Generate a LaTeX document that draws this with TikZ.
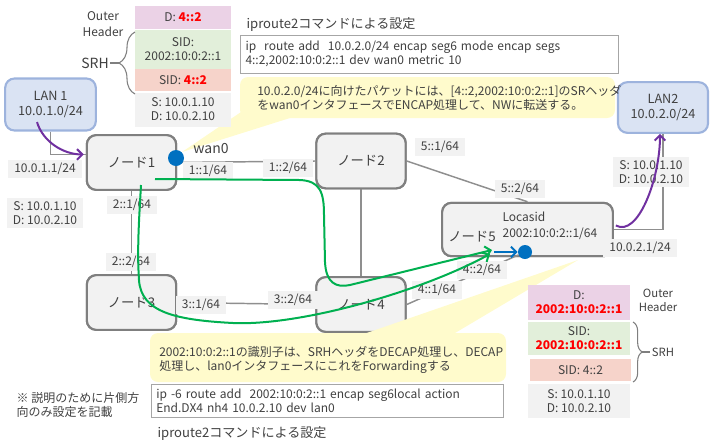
\documentclass[tikz,border=0pt]{standalone}
\usepackage{fontspec}
\setmainfont{Noto Sans CJK JP}
\usetikzlibrary{arrows.meta,calc,decorations.pathreplacing}

\definecolor{txtgray}{HTML}{404040}
\definecolor{boxfill}{HTML}{F2F2F2}
\definecolor{boxline}{HTML}{7F7F7F}
\definecolor{linkgray}{HTML}{8F8F8F}
\definecolor{lanfill}{HTML}{DAE3F3}
\definecolor{lanline}{HTML}{9DB3DD}
\definecolor{hdrpink}{HTML}{EBD2E6}
\definecolor{hdrgreen}{HTML}{E2EFDA}
\definecolor{hdrred}{HTML}{F6D3CA}
\definecolor{callfill}{HTML}{FFFBCC}
\definecolor{cmdline}{HTML}{A6A6A6}
\definecolor{pathgreen}{HTML}{00B050}
\definecolor{ifblue}{HTML}{0070C0}
\definecolor{lanpurple}{HTML}{7030A0}

\newcommand\hotval[1]{\textcolor{red}{\bfseries #1}}

\tikzset{
    router/.style={draw=boxline, fill=boxfill, line width=1.6pt, rounded corners=7pt,
        minimum width=67pt, minimum height=41pt, text=txtgray, font=\fontsize{10}{12}\selectfont},
    lan/.style={draw=lanline, fill=lanfill, line width=1.6pt, rounded corners=7pt,
        minimum width=68pt, minimum height=39pt, align=center, text=txtgray,
        font=\fontsize{9.5}{11.5}\selectfont},
    addr/.style={fill=boxfill, text=txtgray, inner xsep=4.5pt, inner ysep=2.5pt, align=center,
        font=\fontsize{9}{11}\selectfont},
    hdr/.style={minimum width=72pt, inner sep=0pt, align=center, text=txtgray,
        font=\fontsize{9}{10.5}\selectfont},
    plain/.style={text=txtgray, inner sep=1pt, font=\fontsize{9}{11}\selectfont},
    link/.style={draw=linkgray, line width=1.1pt},
    route/.style={draw=pathgreen, line width=1.5pt, -{Straight Barb[length=4pt,width=8pt]}},
    lanarrow/.style={draw=lanpurple, line width=1.5pt, -{Straight Barb[length=4pt,width=8pt]}},
    ifdot/.style={circle, fill=ifblue, inner sep=0pt},
    callbox/.style={fill=callfill, rounded corners=6pt},
    cmd/.style={draw=cmdline, fill=white, line width=0.6pt, align=left, text=txtgray,
        inner xsep=4pt, font=\fontsize{9}{10.5}\selectfont},
    calltext/.style={align=left, text=txtgray, inner sep=0pt, font=\fontsize{9}{10.5}\selectfont}
}

\begin{document}
\begin{tikzpicture}[x=0.75pt, y=-0.75pt]
    \useasboundingbox (0,0) rectangle (714,444);

    % routers and LANs
    \foreach \nm/\x/\y/\t in {n1/131.5/162.5/1, n2/361/161/2, n3/131.5/302.5/3, n4/361/304.5/4}
        \node (\nm) at (\x,\y)[router]{ノード\t};
    \node (n5) at (527.5,229.5)[router, minimum width=128pt, minimum height=40pt]{};
    \node (lan1) at (50.5,104.5)[lan]{LAN 1\\10.0.1.0/24};
    \node (lan2) at (663,107.5)[lan, minimum width=67.5pt, minimum height=38pt]{LAN2\\10.0.2.0/24};

    % links
    \draw[link] (lan1.south) |- (n1.170);
    \draw[link] (n1.east) -- (n2.west);
    \draw[link] (n2.east) -- (n5.north);
    \draw[link] (n2.south) -- (n4.north);
    \draw[link] (n1.south) -- (n3.north);
    \draw[link] (n3.east) -- (n4.west);
    \draw[link] (n5.east) -| (lan2.south);

    % routers again on top of the links
    \foreach \nm/\x/\y/\t in {n1/131.5/162.5/1, n2/361/161/2, n3/131.5/302.5/3, n4/361/304.5/4}
        \node at (\x,\y)[router]{ノード\t};
    \node at (527.5,229.5)[router, minimum width=128pt, minimum height=40pt]{};
    \node (n5name) at (472,237)[plain, font=\fontsize{10}{12}\selectfont]{ノード5};
    \node (n5sid) at (501,226)[plain, anchor=west, align=left, font=\fontsize{9}{12}\selectfont]{Locasid\\2002:10:0:2::1/64};
    \node (dot5) at (525,252)[ifdot, minimum size=10.5pt]{};
    \draw[link] (n4.east) -- (dot5);

    % callouts
    \fill[callbox] (240,77) rectangle (615,118);
    \fill[callfill] (182,152) -- (244,110) -- (290,118) -- cycle;
    \fill[callbox] (150,333) rectangle (506,382);
    \fill[callfill] (578,260) -- (358,336) -- (450,336) -- cycle;
    \node (call1) at (257,98)[calltext, anchor=west]{10.0.2.0/24に向けたパケットには、[4::2,2002:10:0:2::1]のSRヘッダ\\をwan0インタフェースでENCAP処理して、NWに転送する。};
    \node (call2) at (159,360)[calltext, anchor=west]{2002:10:0:2::1の識別子は、SRHヘッダをDECAP処理し、DECAP\\処理し、lan0インタフェースにこれをForwardingする};

    % commands
    \node (cmd1) at (429.5,54)[cmd, minimum width=284pt, minimum height=28.5pt, text width=276pt]{ip\ \ route add\ \ 10.0.2.0/24 encap seg6 mode encap segs\\4::2,2002:10:0:2::1 dev wan0 metric 10};
    \node (cmd1t) at (245,25)[plain, anchor=west, font=\fontsize{9.8}{11}\selectfont]{iproute2コマンドによる設定};
    \node (cmd2) at (327,401)[cmd, minimum width=264pt, minimum height=24pt, text width=256pt]{ip -6 route add\ \ 2002:10:0:2::1 encap seg6local action\\End.DX4 nh4 10.0.2.10 dev lan0};
    \node (cmd2t) at (156,433)[plain, anchor=west, font=\fontsize{9.8}{11}\selectfont]{iproute2コマンドによる設定};
    \node (memo) at (15,405)[plain, anchor=west, align=left, font=\fontsize{9}{10}\selectfont]{※ 説明のために片側方\\向のみ設定を記載};

    % address labels
    \node (a11) at (45,169)[addr]{10.0.1.1/24};
    \node (a12) at (208,171)[addr]{1::1/64};
    \node (a13) at (288,168)[addr]{1::2/64};
    \node (a21) at (440,147)[addr]{5::1/64};
    \node (a22) at (520,189)[addr]{5::2/64};
    \node (a31) at (132,205)[addr]{2::1/64};
    \node (a32) at (131,262)[addr]{2::2/64};
    \node (a41) at (201,305)[addr]{3::1/64};
    \node (a42) at (293,300)[addr]{3::2/64};
    \node (a51) at (437,290)[addr]{4::1/64};
    \node (a52) at (482,270)[addr]{4::2/64};
    \node (a61) at (640,248)[addr]{10.0.2.1/24};
    \node (pkt1) at (45,213)[addr]{S: 10.0.1.10\\D: 10.0.2.10};
    \node (pkt2) at (651,172)[addr]{S: 10.0.1.10\\D: 10.0.2.10};
    \node (wan) at (211,149)[plain, font=\fontsize{10.5}{12}\selectfont]{wan0};

    % encap header stack
    \node (hD) at (183,17.5)[hdr, fill=hdrpink, minimum height=17pt]{D: \hotval{4::2}};
    \node (hS1) at (183,49.5)[hdr, fill=hdrgreen, minimum height=29pt]{SID:\\2002:10:0:2::1};
    \node (hS2) at (183,80)[hdr, fill=hdrred, minimum height=16.5pt]{SID: \hotval{4::2}};
    \node (hIP) at (183,109.5)[hdr, fill=boxfill, minimum height=25.5pt]{S: 10.0.1.10\\D: 10.0.2.10};
    \node (hOut) at (103,24)[plain, align=center, font=\fontsize{9}{12}\selectfont]{Outer\\Header};
    \draw[boxline, line width=0.8pt, decorate, decoration={brace, amplitude=12pt}] (135,94) -- (135,32);
    \coordinate (srhL) at (119,63);
    \node (hSRH) at (95,63)[plain, font=\fontsize{10.5}{12}\selectfont]{SRH};
    \draw[boxline, line width=0.8pt] (hSRH.east) -- (srhL);

    % decap header stack
    \node (rD) at (579,302.5)[hdr, fill=hdrpink, minimum width=76.5pt, minimum height=26pt]{D:\\\hotval{2002:10:0:2::1}};
    \node (rS1) at (579,338.5)[hdr, fill=hdrgreen, minimum width=76.5pt, minimum height=24.75pt]{SID:\\\hotval{2002:10:0:2::1}};
    \node (rS2) at (580.5,370)[hdr, fill=hdrred, minimum width=75.75pt, minimum height=16.5pt]{SID: 4::2};
    \node (rIP) at (579,401)[hdr, fill=boxfill, minimum width=76.5pt, minimum height=25.5pt]{S: 10.0.1.10\\D: 10.0.2.10};
    \node (rOut) at (658,300.5)[plain, align=center, font=\fontsize{8.5}{10}\selectfont]{Outer\\Header};
    \draw[boxline, line width=0.8pt, decorate, decoration={brace, amplitude=7pt}] (633,322) -- (633,382);
    \coordinate (srhR) at (642,352);
    \node (rSRH) at (663,352)[plain, font=\fontsize{8.5}{10}\selectfont]{SRH};
    \draw[boxline, line width=0.8pt] (srhR) -- (rSRH.west);

    % LAN side arrows
    \draw[lanarrow, shorten >=1.5pt] ($(lan1.south)+(-13.5,-9.5)$) .. controls +(6,20) and +(-22,0) .. (n1.170);
    \draw[lanarrow] ($(n5.east)+(2,-4)$) .. controls +(22,12) and +(0,45) .. ($(lan2.south)+(-3,0)$);

    % SRv6 paths
    \coordinate (gA) at (155,179);
    \coordinate (gB) at (141,185);
    \coordinate (tipA) at (492,250);
    \coordinate (tipB) at (490,254);
    \coordinate (tip) at (494,252);
    \draw[route] (gA) -- (300,180) .. controls (320,181) and (324,192) .. (324,215) -- (325,262)
        .. controls (326,283) and (336,288) .. (350,285) -- (tipA);
    \draw[route] (gB) .. controls (139,220) and (137,250) .. (139,280) .. controls (141,312) and (175,320) .. (233,323)
        .. controls (300,326) and (420,292) .. (tipB);
    \draw[draw=ifblue, line width=1.5pt, -{Straight Barb[length=4pt,width=8pt]}] (tip) -- (dot5.west);
    \node (dot1) at (176,158)[ifdot, minimum size=12pt]{};
\end{tikzpicture}
\end{document}
